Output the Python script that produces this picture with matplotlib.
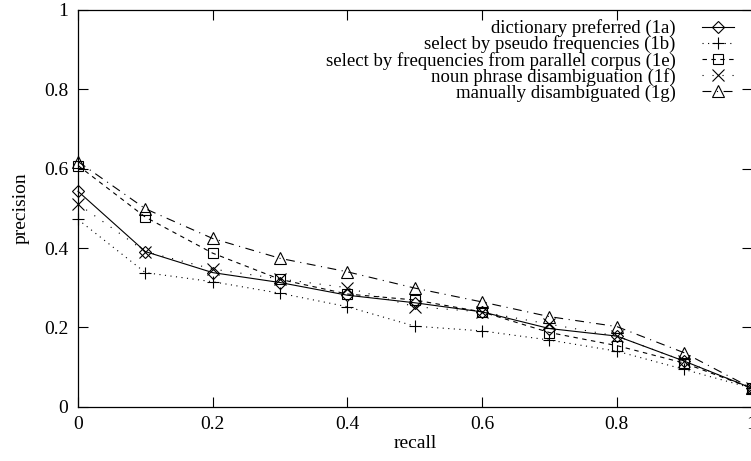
import matplotlib
matplotlib.use("Agg")
import matplotlib.pyplot as plt

plt.rcParams['font.family'] = ['Liberation Serif', 'DejaVu Serif']

recall = [0.0, 0.1, 0.2, 0.3, 0.4, 0.5, 0.6, 0.7, 0.8, 0.9, 1.0]

# precision values
p_1a = [0.543, 0.391, 0.338, 0.313, 0.281, 0.262, 0.239, 0.197, 0.178, 0.115, 0.047]
p_1b = [0.472, 0.338, 0.315, 0.286, 0.252, 0.203, 0.191, 0.168, 0.140, 0.094, 0.047]
p_1e = [0.608, 0.478, 0.387, 0.321, 0.284, 0.269, 0.239, 0.187, 0.154, 0.110, 0.047]
p_1f = [0.511, 0.391, 0.347, 0.322, 0.300, 0.252, 0.239, 0.208, 0.178, 0.115, 0.047]
p_1g = [0.618, 0.499, 0.424, 0.374, 0.340, 0.299, 0.264, 0.227, 0.202, 0.136, 0.047]

labels = ["dictionary preferred (1a)",
          "select by pseudo frequencies (1b)",
          "select by frequencies from parallel corpus (1e)",
          "noun phrase disambiguation (1f)",
          "manually disambiguated (1g)"]

x_ticks = [0, 0.2, 0.4, 0.6, 0.8, 1]
x_tick_labels = ["0", "0.2", "0.4", "0.6", "0.8", "1"]

fig = plt.figure(figsize=(7.51, 4.61), dpi=100)
ax = fig.add_axes([78 / 751, 54.3 / 461, 673.5 / 751, 396.7 / 461])

styles = [
    dict(ls='-', marker='D', ms=6),
    dict(ls=(0, (1, 4)), marker='+', ms=9),
    dict(ls=(0, (4, 4)), marker='s', ms=7.5),
    dict(ls=(0, (1, 8)), marker='x', ms=8),
    dict(ls=(0, (8, 5, 1, 5)), marker='^', ms=9),
]
series = [p_1a, p_1b, p_1e, p_1f, p_1g]

for vals, lab, st in zip(series, labels, styles):
    ax.plot(recall, vals, color='black', lw=0.8, mfc='none', mec='black',
            mew=0.8, label=lab, clip_on=False, **st)

ax.set_xlim(0, 1)
ax.set_ylim(0, 1)
ax.set_xticks(x_ticks)
ax.set_xticklabels(x_tick_labels)
ax.set_yticks(x_ticks)
ax.set_yticklabels(x_tick_labels)
ax.tick_params(direction='in', length=7, width=0.8, top=True, right=True,
               labelsize=14, pad=7)
for s in ax.spines.values():
    s.set_linewidth(0.9)

ax.set_xlabel("recall", fontsize=14, labelpad=1)
ax.set_ylabel("precision", fontsize=14, labelpad=10)

ax.legend(loc='upper right', bbox_to_anchor=(0.99, 1.005), frameon=False,
          markerfirst=False, fontsize=13.5, handlelength=1.7,
          labelspacing=-0.09, handletextpad=1.4, borderpad=0.1)

fig.savefig("out.png", dpi=100)
